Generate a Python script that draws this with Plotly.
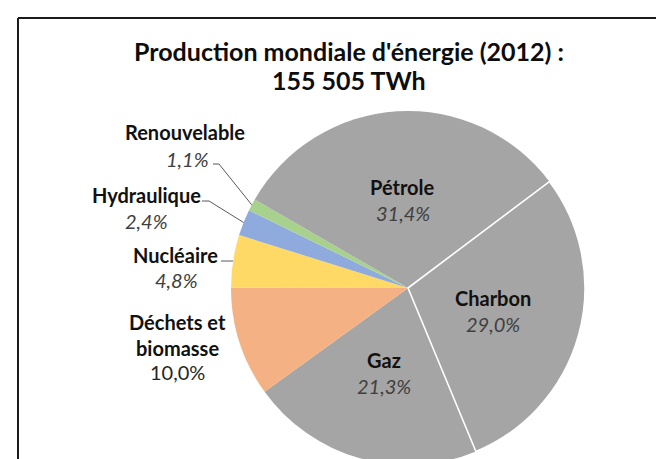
import math
import plotly.graph_objects as go

# ---- data ----
categories = ["Pétrole", "Charbon", "Gaz", "Déchets et biomasse", "Nucléaire", "Hydraulique", "Renouvelable"]
shares = [31.4, 29.0, 21.3, 10.0, 4.8, 2.4, 1.1]
pct_text = ["31,4%", "29,0%", "21,3%", "10,0%", "4,8%", "2,4%", "1,1%"]
colors = ["#a5a5a5", "#a5a5a5", "#a5a5a5", "#f4b183", "#ffd966", "#8faadc", "#a9d18e"]
title_lines = ["Production mondiale d'énergie (2012) :", "155 505 TWh"]

W, H = 664, 459
FIRST_ANGLE = 300.0          # start angle of first slice (clockwise from 12 o'clock)
CX, CY, R = 400.0, 280.0, 177.0  # pie geometry in pixels
FONT = "Lato"
LBL = 20
TITLE = 25


def px(x):
    return x / W


def py(y):
    return 1 - y / H


# start/mid angles from the data
total = sum(shares)
starts, mids = [], []
a = FIRST_ANGLE
for v in shares:
    starts.append(a)
    mids.append(a + 180.0 * v / total)
    a += 360.0 * v / total


def polar(ang, r):
    t = math.radians(ang)
    return CX + r * math.sin(t), CY - r * math.cos(t)


# draw order: put Charbon last so its white edges stay on top
order = [2, 3, 4, 5, 6, 0, 1]
rotation = starts[order[0]] % 360
line_w = [1.6 if categories[i] == "Charbon" else 0 for i in order]

fig = go.Figure(go.Pie(
    labels=[categories[i] for i in order],
    values=[shares[i] for i in order],
    marker=dict(colors=[colors[i] for i in order], line=dict(color="white", width=line_w)),
    sort=False, direction="clockwise", rotation=rotation,
    textinfo="none", hoverinfo="label+percent", showlegend=False,
    domain=dict(x=[px(CX - R), px(CX + R)], y=[py(CY + R), py(CY - R)]),
))

ann = []
# title
ann.append(dict(x=px(341), y=py(43), text="<b>" + title_lines[0] + "</b>", size=TITLE))
ann.append(dict(x=px(341), y=py(72), text="<b>" + title_lines[1] + "</b>", size=TITLE))

# inside labels (gray slices) at half radius along the bisector
for i in range(3):
    x, y = polar(mids[i], 0.5 * R)
    ann.append(dict(x=px(x), y=py(y - 13), text="<b>" + categories[i] + "</b>", size=LBL, color="#111111"))
    ann.append(dict(x=px(x), y=py(y + 13), text="<i>" + pct_text[i] + "</i>", size=LBL, color="#404040"))

# outside labels
outside = {
    "Renouvelable": dict(name=(177, 124), pct=(179, 151), lead=[(205, 156), (211, 156)]),
    "Hydraulique": dict(name=(138, 187), pct=(138, 213), lead=[(194, 193), (201, 193)]),
    "Nucléaire": dict(name=(167, 247), pct=(168, 272), lead=[(213, 253)]),
}
shapes = []
for i, c in enumerate(categories):
    if c in outside:
        o = outside[c]
        ann.append(dict(x=px(o["name"][0]), y=py(o["name"][1]), text="<b>" + c + "</b>", size=LBL, color="#111111"))
        ann.append(dict(x=px(o["pct"][0]), y=py(o["pct"][1]), text="<i>" + pct_text[i] + "</i>", size=LBL, color="#404040"))
        pts = o["lead"] + [polar(mids[i], R)]
        path = "M " + " L ".join(f"{px(x)},{py(y)}" for x, y in pts)
        shapes.append(dict(type="path", xref="paper", yref="paper", path=path,
                           line=dict(color="#595959", width=1)))
    elif c.startswith("Déchets"):
        words = c.split(" ")
        ann.append(dict(x=px(169), y=py(314), text="<b>" + " ".join(words[:2]) + "</b>", size=LBL, color="#111111"))
        ann.append(dict(x=px(169), y=py(340), text="<b>" + words[2] + "</b>", size=LBL, color="#111111"))
        ann.append(dict(x=px(169), y=py(364), text=pct_text[i], size=LBL, color="#262626"))

annotations = []
for d in ann:
    annotations.append(dict(
        x=d["x"], y=d["y"], xref="paper", yref="paper", text=d["text"], showarrow=False,
        xanchor="center", yanchor="middle",
        font=dict(family=FONT, size=d.get("size", 22), color=d.get("color", "#0d0d0d")),
    ))

# chart frame (left and top edges visible)
shapes.append(dict(type="line", xref="paper", yref="paper", x0=px(10), x1=px(10), y0=py(10), y1=0,
                   line=dict(color="#1a1a1a", width=2)))
shapes.append(dict(type="line", xref="paper", yref="paper", x0=px(10), x1=1, y0=py(10), y1=py(10),
                   line=dict(color="#1a1a1a", width=2)))

fig.update_layout(
    width=W, height=H, margin=dict(l=0, r=0, t=0, b=0),
    paper_bgcolor="white", plot_bgcolor="white",
    annotations=annotations, shapes=shapes,
)

fig.write_html("out.html")
